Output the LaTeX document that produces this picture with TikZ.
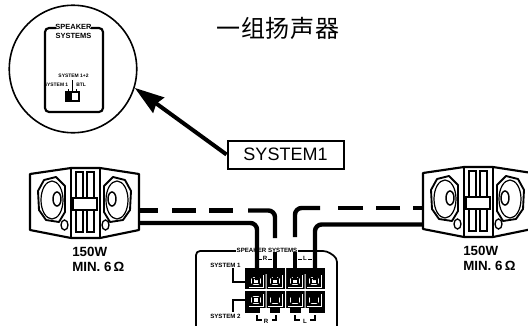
\documentclass[tikz,border=0pt]{standalone}
\usepackage{fontspec}
\setmainfont{Liberation Sans}
\newfontfamily\cjk[LetterSpace=4]{Noto Sans CJK SC}
\usetikzlibrary{arrows.meta}
\tikzset{
  px/.style={x=0.75pt,y=-0.75pt},
  wire/.style={line width=3.3pt,rounded corners=5pt},
  tiny label/.style={font=\bfseries\fontsize{4.6}{5}\selectfont,inner sep=0pt,align=center},
  inset label/.style={font=\bfseries\fontsize{3.7}{4}\selectfont,inner sep=0pt,align=center},
  watt label/.style={font=\bfseries\fontsize{10}{11}\selectfont,inner sep=0pt,align=left,anchor=north west},
  pics/speaker/.style={code={
    \draw[line width=1.6pt,line join=round,fill=white] (30,174)--(71,168)--(100,168)--(139,174)--(139,230)--(100,238)--(71,238)--(30,230)--cycle;
    \draw[line width=1.7pt] (71,168)--(71,238) (100,168)--(100,238);
    \foreach \xa in {76,87}{\draw[line width=1pt] (\xa,172) rectangle ++(7,60);}
    \draw[line width=1pt,fill=white] (73,198) rectangle (97,210);
    \draw[line width=2pt] (73,198)--(73,210) (97,198)--(97,210);
    \draw[line width=1.4pt,line join=round] (38,191)--(44,180)--(56,177)--(65,186)--(65,212)--(59,222)--(46,220)--(39,210)--cycle;
    \draw[line width=.9pt] (52,200) ellipse (11 and 19);
    \draw[line width=1.1pt] (57,199) ellipse (4 and 7);
    \draw[line width=1pt] (64.5,225) ellipse (3.5 and 5);
    \draw[line width=1.4pt,line join=round] (131,191)--(125,180)--(113,177)--(104,186)--(104,212)--(110,222)--(123,220)--(130,210)--cycle;
    \draw[line width=.9pt] (117,200) ellipse (11 and 19);
    \draw[line width=1.1pt] (112,199) ellipse (4 and 7);
    \draw[line width=1pt] (105.5,225) ellipse (3.5 and 5);
  }},
  pics/terminal/.style={code={
    \fill[white] (-7.5,-6.5) rectangle (7.5,6.5);
    \draw[line width=1.2pt] (-5.5,-4.5)--(5.5,4.5) (-5.5,4.5)--(5.5,-4.5);
    \draw[line width=1pt] (-6,-5) rectangle (6,5);
    \fill[white] (-3,-2.5) rectangle (3,2.5);
    \draw[line width=.8pt] (-3,-2.5) rectangle (3,2.5);
  }}
}
\begin{document}
\begin{tikzpicture}[px]
\useasboundingbox (0,0) rectangle (528,325);
\clip (0,0) rectangle (528,325);
% title
\node[inner sep=0pt,font=\cjk\fontsize{18}{20}\selectfont] (title) at (278,28) {一组扬声器};
% inset
\node[circle,draw,line width=1.2pt,minimum size=127.5*0.75pt,inner sep=0pt] (inset) at (73,69) {};
\draw[line width=1.6pt,rounded corners=3pt] (56,28)--(45,28)--(45,112)--(103,112)--(103,28)--(91,28);
\node[inner sep=0pt,font=\bfseries\fontsize{5.6}{6.8}\selectfont,align=center] (spk) at (73.5,31.5) {SPEAKER\\SYSTEMS};
\node[inset label] (s12) at (73.5,76) {SYSTEM 1+2};
\node[inset label,anchor=east] (s1) at (68.5,85) {SYSTEM 1};
\node[inset label,anchor=west] (stl) at (76,85) {BTL};
\draw[line width=.6pt] (68,89)--(68,92) (72.5,80)--(72.5,92) (76,89)--(76,92);
\fill (66,92) rectangle (72,101);
\draw[line width=1pt] (66,92) rectangle (79,101);
% SYSTEM1 label + arrow
\node[draw,line width=1.5pt,minimum width=116*.75pt,minimum height=28*.75pt,inner sep=0pt,font=\fontsize{13.5}{14}\selectfont] (sys) at (285.5,154.5) {SYSTEM1};
\draw[line width=3pt,-{Stealth[length=22pt,width=14pt,inset=2pt]}] (sys.west) -- (inset.-17);
% panel
\draw[line width=1.3pt,rounded corners=3pt] (196,327)--(196,251)--(327,251)--(337,258)--(337,327);
\fill[white] (236,247) rectangle (298,255);
\node[tiny label] (ss) at (267,250.5) {SPEAKER SYSTEMS};
\node[tiny label] (r) at (265,258.5) {R};
\node[tiny label] (l) at (305,258.5) {L};
\draw[line width=.7pt] (259,259)--(262,259) (268,259)--(272,259) (298,259)--(302,259) (308,259)--(312,259);
\node[tiny label,anchor=west] (sy1) at (210,265) {SYSTEM 1};
\node[tiny label,anchor=west] (sy2) at (210,316) {SYSTEM 2};
\draw[line width=.8pt] (233,268)--(233,282)--(246,282) (246,300)--(233,300)--(233,312);
% terminal block
\fill (245,268) rectangle (325,313);
\foreach \tx in {256,275,295,314}{
  \pic at (\tx,281) {terminal};
  \pic at (\tx,300) {terminal};
}
\fill[white] (265.5,274) rectangle (266.5,313) (285,268) rectangle (286,313) (304.5,274) rectangle (305.5,313);
\fill[white] (245,289.3) rectangle (325,291);
% wire clamps on the lower row
\foreach \tx in {275,295,314}{\fill (\tx-6,293.5) -- (\tx+6,293.5) -- (\tx+2,302) -- (\tx-2,302) -- cycle;}
\foreach \ta/\tw in {268/8,288/8,307/6}{\fill[white] (\ta-\tw,308) rectangle (\ta+2,314);}
% polarity marks
\draw[line width=.8pt] (257,315)--(257,320)--(262,320) (272,320)--(276,320)--(276,315) (295,315)--(295,320)--(300,320) (310,320)--(315,320)--(315,315);
\node[tiny label] (rr) at (266,321) {R};
\node[tiny label] (ll) at (305,321) {L};
% speakers
\pic (spkL) at (0,0) {speaker};
\pic (spkR) at (393,-1) {speaker};
% wires
\coordinate (la) at (139,223);
\coordinate (ra) at (423,224.5);
\coordinate (t1) at (257,280);
\coordinate (t2) at (275,280);
\coordinate (t3) at (295,280);
\coordinate (t4) at (315,280);
\draw[wire] (la) -| (t1);
\draw[wire] (ra) -| (t4);
\draw[wire] (t2|-0,252) -- (t2);
\draw[wire] (t3|-0,252) -- (t3);
% dashed runs, left
\foreach \dxa/\dxb in {139/158,172/196,209/233}{
  \coordinate (da) at (\dxa,210.5); \coordinate (db) at (\dxb,210.5);
  \draw[wire] (da)--(db);
}
\coordinate (lc) at (248,210.5);
\draw[wire] (lc) -| (t2|-0,238);
% dashed runs, right
\foreach \dxa/\dxb in {423/413,400/376,363/338}{
  \coordinate (da) at (\dxa,208); \coordinate (db) at (\dxb,208);
  \draw[wire] (da)--(db);
}
\coordinate (rc) at (320,208);
\draw[wire] (rc) -| (t3|-0,237);
% watt labels
\node[watt label] (wl) at (72,247) {150W\\MIN. 6\,Ω};
\node[watt label] (wr) at (463,246) {150W\\MIN. 6\,Ω};
\end{tikzpicture}
\end{document}
